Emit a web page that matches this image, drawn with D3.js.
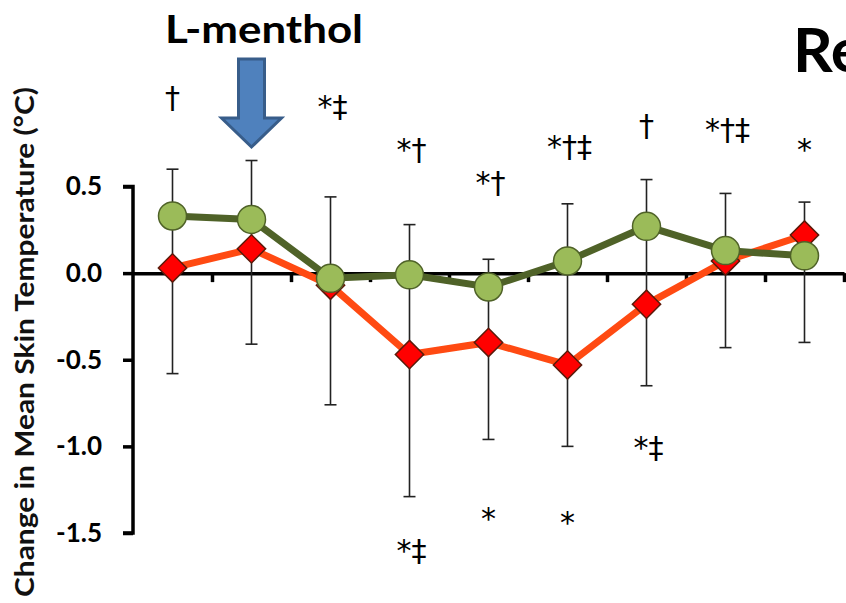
<!DOCTYPE html>
<html>
<head>
<meta charset="utf-8">
<script src="https://cdn.jsdelivr.net/npm/d3@7"></script>
<style>
  body { margin: 0; background: #fff; }
  text { font-family: Lato, "Open Sans", sans-serif; }
</style>
</head>
<body>
<script>
'use strict'

// time points (9 per series, no axis labels shown)
const points = [1, 2, 3, 4, 5, 6, 7, 8, 9]
const greenVals = [0.33, 0.31, -0.03, -0.01, -0.08, 0.07, 0.27, 0.13, 0.10]
const redVals = [0.03, 0.14, -0.07, -0.47, -0.40, -0.53, -0.18, 0.07, 0.22]
// error bar ends (upper from green, lower from red)
const errTop = [0.60, 0.65, 0.44, 0.28, 0.08, 0.40, 0.54, 0.46, 0.41]
const errBottom = [-0.58, -0.41, -0.76, -1.29, -0.96, -1.00, -0.65, -0.43, -0.40]
const yTicks = [0.5, 0.0, -0.5, -1.0, -1.5]
const marksAbove = ['†', '*‡', '*†', '*†', '*†‡', '†', '*†‡', '*']
const marksAboveAt = [1, 3, 4, 5, 6, 7, 8, 9]
const marksAboveY = [1.00, 0.95, 0.70, 0.51, 0.72, 0.84, 0.82, 0.70]
const marksBelow = ['*‡', '*', '*', '*‡']
const marksBelowAt = [4, 5, 6, 7]
const marksBelowY = [-1.61, -1.43, -1.45, -1.02]

const width = 846, height = 603

const svg = d3.select('body').append('svg')
  .attr('width', width)
  .attr('height', height)

const x = d3.scaleBand()
  .domain(points)
  .range([133, 844])

const y = d3.scaleLinear()
  .domain([-1.5, 0.5])
  .range([533, 186.5])

const cx = d => x(d) + x.bandwidth() / 2

// y axis
const yAxis = d3.axisLeft(y)
  .tickValues(yTicks)
  .tickFormat(d => d3.format('.1f')(d).replace('−', '-'))
  .tickSize(10)
  .tickSizeOuter(0)
  .tickPadding(21)

const gy = svg.append('g')
  .attr('transform', 'translate(133,0)')
  .call(yAxis)
gy.select('.domain').attr('stroke', '#000').attr('stroke-width', 3.5)
  .attr('d', 'M-10,' + y(0.5) + 'H0V' + y(-1.5) + 'H-10')
gy.selectAll('.tick line').attr('stroke', '#000').attr('stroke-width', 3.5)
gy.selectAll('.tick text')
  .attr('font-size', 26)
  .attr('font-weight', 'bold')
  .attr('fill', '#000')
  .style('font-family', 'Lato, sans-serif')

// x axis at zero, ticks at category boundaries
const xAxis = d3.axisBottom(d3.scaleLinear().domain([0, 9]).range([133, 844]))
  .tickValues(d3.range(1, 10))
  .tickSize(9)
  .tickSizeOuter(0)
  .tickFormat('')

const gx = svg.append('g')
  .attr('transform', 'translate(0,' + y(0) + ')')
  .call(xAxis)
gx.select('.domain').attr('stroke', '#000').attr('stroke-width', 3.5)
gx.selectAll('.tick line').attr('stroke', '#000').attr('stroke-width', 3.5)

// error bars
const eb = svg.append('g')
points.forEach((p, i) => {
  eb.append('line')
    .attr('x1', cx(p)).attr('x2', cx(p))
    .attr('y1', y(errTop[i])).attr('y2', y(errBottom[i]))
    .attr('stroke', '#222').attr('stroke-width', 1.6)
  ;[errTop[i], errBottom[i]].forEach(v => {
    eb.append('line')
      .attr('x1', cx(p) - 6).attr('x2', cx(p) + 6)
      .attr('y1', y(v)).attr('y2', y(v))
      .attr('stroke', '#222').attr('stroke-width', 1.6)
  })
})

const line = d3.line()
  .x((d, i) => cx(points[i]))
  .y(d => y(d))

// red series
svg.append('path')
  .datum(redVals)
  .attr('d', line)
  .attr('fill', 'none')
  .attr('stroke', '#FF4A12')
  .attr('stroke-width', 7)

// green series
svg.append('path')
  .datum(greenVals)
  .attr('d', line)
  .attr('fill', 'none')
  .attr('stroke', '#4F6228')
  .attr('stroke-width', 7)

svg.append('g').selectAll('path')
  .data(redVals)
  .enter()
  .append('path')
  .attr('d', d3.symbol(d3.symbolSquare, 400))
  .attr('transform', (d, i) => 'translate(' + [cx(points[i]), y(d)] + ') rotate(45)')
  .attr('fill', '#FF0000')
  .attr('stroke', '#5a1a0a')
  .attr('stroke-width', 1.5)

svg.append('g').selectAll('circle')
  .data(greenVals)
  .enter()
  .append('circle')
  .attr('cx', (d, i) => cx(points[i]))
  .attr('cy', d => y(d))
  .attr('r', 14)
  .attr('fill', '#9BBB59')
  .attr('stroke', '#4F6228')
  .attr('stroke-width', 1.5)

// significance marks
const markText = (labels, at, ys) => {
  svg.append('g').selectAll('text')
    .data(labels)
    .enter()
    .append('text')
    .attr('x', (d, i) => cx(at[i]) + (d.length > 1 ? 2 : 0))
    .attr('y', (d, i) => y(ys[i]))
    .attr('text-anchor', 'middle')
    .attr('dominant-baseline', 'middle')
    .attr('font-size', 30)
    .style('font-family', '"DejaVu Sans", sans-serif')
    .text(d => d)
}
markText(marksAbove, marksAboveAt, marksAboveY)
markText(marksBelow, marksBelowAt, marksBelowY)

// y axis title
svg.append('text')
  .attr('transform', 'translate(34,342) rotate(-90)')
  .attr('text-anchor', 'middle')
  .attr('font-size', 27)
  .attr('font-weight', 'bold')
  .attr('fill', '#111')
  .attr('textLength', 510)
  .attr('lengthAdjust', 'spacingAndGlyphs')
  .text('Change in Mean Skin Temperature (°C)')

// L-menthol label and arrow
svg.append('text')
  .attr('x', 165)
  .attr('y', 43)
  .attr('font-size', 39)
  .attr('font-weight', 'bold')
  .attr('textLength', 198)
  .attr('lengthAdjust', 'spacingAndGlyphs')
  .text('L-menthol')

const ax = cx(2)
svg.append('path')
  .attr('d', d3.line()([
    [ax - 13, 59], [ax + 13, 59], [ax + 13, 118], [ax + 30, 118],
    [ax, 147], [ax - 30, 118], [ax - 13, 118]
  ]) + 'Z')
  .attr('fill', '#4F81BD')
  .attr('stroke', '#385D8A')
  .attr('stroke-width', 3)

// title text cut by the right edge, as in the source
svg.append('text')
  .attr('x', 793)
  .attr('y', 72)
  .attr('font-size', 62)
  .attr('font-weight', 'bold')
  .text('Re')
</script>
</body>
</html>
